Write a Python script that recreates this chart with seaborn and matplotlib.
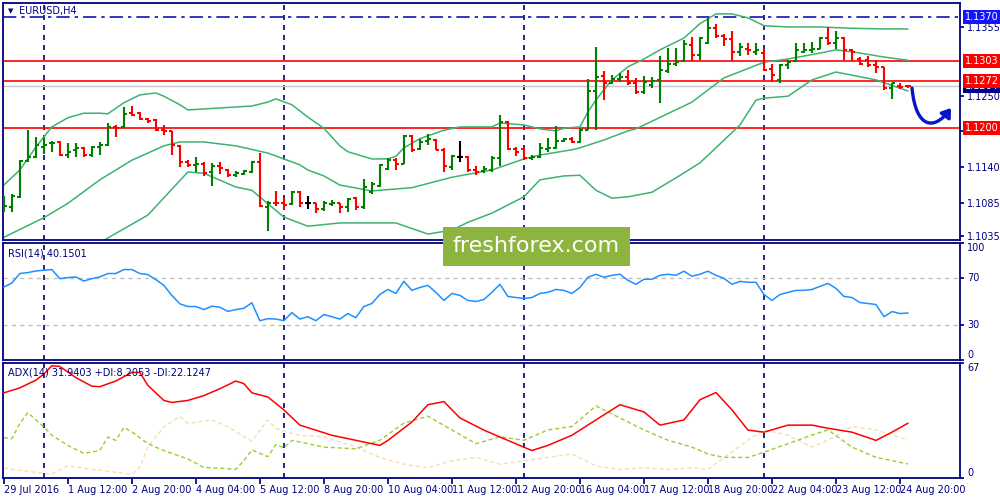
import numpy as np
import pandas as pd
import seaborn as sns
import matplotlib.pyplot as plt
from matplotlib.path import Path
from matplotlib.patches import FancyArrowPatch, Rectangle

sns.set_theme(style="white")
plt.rcParams['font.family'] = ['DejaVu Sans']

NAVY = '#000080'

# ---- EURUSD H4 bars (open, high, low, close) ----
opens = [1.1079, 1.1079, 1.1095, 1.1150, 1.1156, 1.1172, 1.1177, 1.1179, 1.1159, 1.1167,
         1.1169, 1.1159, 1.1172, 1.1174, 1.1202, 1.1202, 1.1223, 1.1224, 1.1214, 1.1213,
         1.1198, 1.1195, 1.1173, 1.1149, 1.1144, 1.1146, 1.1133, 1.1142, 1.1136, 1.1128,
         1.1130, 1.1133, 1.1149, 1.1080, 1.1086, 1.1085, 1.1084, 1.1103, 1.1085, 1.1085,
         1.1076, 1.1084, 1.1085, 1.1079, 1.1093, 1.1079, 1.1103, 1.1112, 1.1137, 1.1152,
         1.1146, 1.1188, 1.1168, 1.1181, 1.1182, 1.1167, 1.1140, 1.1156, 1.1156, 1.1136,
         1.1135, 1.1136, 1.1154, 1.1210, 1.1168, 1.1168, 1.1154, 1.1156, 1.1168, 1.1169,
         1.1181, 1.1183, 1.1179, 1.1198, 1.1257, 1.1280, 1.1270, 1.1276, 1.1279, 1.1270,
         1.1256, 1.1266, 1.1274, 1.1288, 1.1298, 1.1303, 1.1327, 1.1312, 1.1330, 1.1353,
         1.1341, 1.1336, 1.1316, 1.1321, 1.1317, 1.1315, 1.1290, 1.1274, 1.1297, 1.1303,
         1.1317, 1.1319, 1.1322, 1.1338, 1.1330, 1.1338, 1.1319, 1.1306, 1.1304, 1.1297,
         1.1293, 1.1261, 1.1265, 1.1265]
highs = [1.1096, 1.1100, 1.1151, 1.1197, 1.1187, 1.1185, 1.1181, 1.1181, 1.1178, 1.1178,
         1.1171, 1.1173, 1.1179, 1.1208, 1.1205, 1.1232, 1.1234, 1.1225, 1.1215, 1.1214,
         1.1205, 1.1196, 1.1174, 1.1151, 1.1156, 1.1149, 1.1147, 1.1149, 1.1137, 1.1134,
         1.1136, 1.1150, 1.1162, 1.1088, 1.1104, 1.1093, 1.1104, 1.1104, 1.1096, 1.1086,
         1.1089, 1.1090, 1.1086, 1.1093, 1.1094, 1.1122, 1.1117, 1.1145, 1.1154, 1.1154,
         1.1190, 1.1190, 1.1183, 1.1191, 1.1183, 1.1169, 1.1159, 1.1181, 1.1158, 1.1142,
         1.1142, 1.1158, 1.1220, 1.1211, 1.1172, 1.1169, 1.1159, 1.1177, 1.1185, 1.1203,
         1.1185, 1.1186, 1.1200, 1.1276, 1.1324, 1.1287, 1.1282, 1.1284, 1.1289, 1.1277,
         1.1280, 1.1279, 1.1311, 1.1323, 1.1323, 1.1335, 1.1340, 1.1339, 1.1370, 1.1360,
         1.1345, 1.1349, 1.1331, 1.1331, 1.1330, 1.1321, 1.1298, 1.1299, 1.1304, 1.1331,
         1.1331, 1.1332, 1.1339, 1.1355, 1.1349, 1.1340, 1.1321, 1.1309, 1.1311, 1.1304,
         1.1294, 1.1270, 1.1269, 1.1266]
lows = [1.1071, 1.1072, 1.1093, 1.1149, 1.1155, 1.1161, 1.1164, 1.1158, 1.1154, 1.1156,
        1.1156, 1.1156, 1.1159, 1.1173, 1.1186, 1.1200, 1.1218, 1.1213, 1.1208, 1.1195,
        1.1190, 1.1159, 1.1140, 1.1141, 1.1133, 1.1127, 1.1112, 1.1130, 1.1125, 1.1126,
        1.1128, 1.1131, 1.1079, 1.1043, 1.1081, 1.1077, 1.1082, 1.1080, 1.1076, 1.1070,
        1.1074, 1.1081, 1.1070, 1.1071, 1.1075, 1.1076, 1.1099, 1.1110, 1.1136, 1.1136,
        1.1145, 1.1164, 1.1166, 1.1174, 1.1166, 1.1133, 1.1136, 1.1149, 1.1133, 1.1128,
        1.1131, 1.1133, 1.1142, 1.1167, 1.1158, 1.1152, 1.1152, 1.1154, 1.1164, 1.1168,
        1.1179, 1.1177, 1.1177, 1.1197, 1.1198, 1.1243, 1.1268, 1.1271, 1.1266, 1.1253,
        1.1253, 1.1262, 1.1239, 1.1285, 1.1295, 1.1302, 1.1303, 1.1304, 1.1329, 1.1338,
        1.1326, 1.1303, 1.1311, 1.1312, 1.1312, 1.1287, 1.1271, 1.1270, 1.1290, 1.1302,
        1.1315, 1.1315, 1.1321, 1.1327, 1.1322, 1.1304, 1.1303, 1.1297, 1.1294, 1.1285,
        1.1259, 1.1244, 1.1260, 1.1261]
closes = [1.1081, 1.1096, 1.1150, 1.1156, 1.1174, 1.1174, 1.1178, 1.1159, 1.1164, 1.1169,
          1.1159, 1.1172, 1.1174, 1.1202, 1.1200, 1.1222, 1.1220, 1.1214, 1.1211, 1.1198,
          1.1195, 1.1174, 1.1149, 1.1144, 1.1146, 1.1132, 1.1142, 1.1139, 1.1128, 1.1131,
          1.1134, 1.1149, 1.1081, 1.1085, 1.1085, 1.1082, 1.1103, 1.1085, 1.1085, 1.1077,
          1.1086, 1.1085, 1.1079, 1.1091, 1.1079, 1.1110, 1.1115, 1.1144, 1.1152, 1.1145,
          1.1188, 1.1167, 1.1179, 1.1183, 1.1167, 1.1142, 1.1158, 1.1156, 1.1136, 1.1133,
          1.1137, 1.1154, 1.1210, 1.1168, 1.1163, 1.1154, 1.1156, 1.1169, 1.1169, 1.1181,
          1.1183, 1.1179, 1.1198, 1.1257, 1.1278, 1.1270, 1.1276, 1.1279, 1.1270, 1.1256,
          1.1271, 1.1272, 1.1289, 1.1298, 1.1301, 1.1329, 1.1312, 1.1338, 1.1353, 1.1341,
          1.1336, 1.1316, 1.1325, 1.1320, 1.1320, 1.1289, 1.1282, 1.1297, 1.1302, 1.1320,
          1.1320, 1.1322, 1.1338, 1.1331, 1.1338, 1.1319, 1.1317, 1.1299, 1.1297, 1.1294,
          1.1261, 1.1269, 1.1263, 1.1264]

# Bollinger bands (20, 2), read at some bars
bb_up_bars = [0, 2, 4, 6, 8, 10, 12, 13, 15, 17, 19, 20, 22, 23, 27, 31, 33, 34, 36, 38,
              40, 42, 43, 46, 48, 49, 50, 52, 55, 57, 61, 62, 65, 67, 69, 70, 72, 73, 74, 75,
              76, 78, 80, 82, 85, 87, 89, 91, 93, 95, 98, 102, 106, 110, 113]
bb_up = [1.1113, 1.1136, 1.1171, 1.1202, 1.1216, 1.1223, 1.1223, 1.1222, 1.1239, 1.1251,
         1.1254, 1.1249, 1.1236, 1.1228, 1.1231, 1.1234, 1.1240, 1.1245, 1.1236, 1.1217,
         1.1200, 1.1173, 1.1164, 1.1153, 1.1153, 1.1157, 1.1170, 1.1184, 1.1197, 1.1202,
         1.1202, 1.1208, 1.1205, 1.1199, 1.1196, 1.1200, 1.1202, 1.1225, 1.1243, 1.1259,
         1.1274, 1.1294, 1.1306, 1.1320, 1.1338, 1.1360, 1.1375, 1.1375, 1.1369, 1.1357,
         1.1355, 1.1355, 1.1353, 1.1352, 1.1352]
bb_mid_bars = [0, 5, 8, 12, 16, 20, 22, 25, 29, 33, 37, 38, 40, 42, 46, 51, 56, 61, 65, 67,
               71, 72, 75, 78, 79, 86, 90, 95, 98, 102, 104, 106, 110, 113]
bb_mid = [1.1033, 1.1063, 1.1085, 1.1121, 1.1151, 1.1173, 1.1179, 1.1179, 1.1173, 1.1162,
          1.1144, 1.1136, 1.1127, 1.1113, 1.1104, 1.1109, 1.1125, 1.1136, 1.1153, 1.1159,
          1.1167, 1.1170, 1.1182, 1.1196, 1.1199, 1.1240, 1.1277, 1.1301, 1.1306, 1.1315,
          1.1320, 1.1317, 1.1309, 1.1304]
bb_low_bars = [12, 13, 18, 23, 25, 29, 31, 35, 38, 42, 49, 53, 56, 58, 61, 65, 67, 70, 72,
               74, 76, 78, 81, 84, 87, 89, 92, 94, 95, 98, 101, 104, 109, 113]
bb_low = [1.1024, 1.1032, 1.1067, 1.1133, 1.1131, 1.1110, 1.1105, 1.1064, 1.1050, 1.1055,
          1.1055, 1.1038, 1.1044, 1.1056, 1.1070, 1.1095, 1.1121, 1.1127, 1.1128, 1.1105,
          1.1093, 1.1095, 1.1102, 1.1124, 1.1147, 1.1170, 1.1205, 1.1243, 1.1246, 1.1249,
          1.1274, 1.1286, 1.1274, 1.1257]

levels_red = [1.1303, 1.1272, 1.1200]
level_high = 1.1370
bid = 1.1264
price_ticks = [1.1355, 1.1250, 1.1195, 1.1140, 1.1085, 1.1035]

# RSI(14), one value per bar
rsi = [62.3, 65.8, 73.9, 74.7, 76.1, 76.7, 77.3, 69.5, 70.4, 71.0, 67.5, 69.5, 71.0, 73.9,
       73.9, 77.3, 77.3, 73.9, 73.0, 68.7, 63.8, 55.2, 48.0, 45.7, 45.7, 43.1, 46.0, 45.1,
       41.6, 43.1, 44.2, 48.9, 33.6, 35.3, 35.0, 33.6, 40.5, 35.0, 37.0, 33.6, 38.8, 37.0,
       35.0, 39.7, 36.2, 45.7, 48.3, 56.0, 60.3, 56.9, 67.2, 59.5, 62.0, 63.8, 57.8, 50.9,
       56.9, 55.2, 50.9, 50.0, 51.7, 57.8, 64.7, 54.3, 53.4, 52.6, 53.4, 56.9, 57.8, 60.3,
       59.5, 56.9, 62.0, 70.7, 73.3, 70.7, 72.4, 73.3, 68.1, 64.7, 69.0, 69.0, 72.4, 73.3,
       72.4, 75.9, 71.6, 73.3, 75.9, 72.4, 69.8, 64.7, 67.2, 66.4, 66.4, 56.0, 50.9, 56.0,
       57.8, 59.5, 59.5, 60.3, 62.9, 65.5, 61.2, 54.3, 53.4, 49.1, 48.3, 47.4, 37.0, 41.4,
       39.7, 40.15]

# ADX(14) with +DI / -DI
adx_bars = [0, 2, 4, 5, 6, 7, 9, 11, 12, 14, 16, 17, 18, 20, 21, 23, 25, 27, 29, 30, 31,
            33, 35, 37, 41, 47, 48, 51, 53, 55, 57, 60, 63, 66, 68, 71, 75, 77, 80, 82, 85,
            87, 89, 91, 93, 95, 98, 101, 103, 106, 109, 111, 113]
adx = [49.6, 52.5, 57.0, 60.5, 65.4, 65.0, 58.5, 53.5, 53.2, 56.5, 61.5, 61.5, 54.0, 45.2,
       44.0, 45.2, 48.0, 52.0, 56.5, 55.0, 49.6, 47.2, 39.7, 30.8, 24.9, 19.0, 21.9, 32.6,
       42.7, 44.5, 35.0, 27.9, 21.9, 16.0, 19.0, 24.9, 36.8, 42.7, 38.5, 30.8, 33.8, 45.6,
       49.8, 39.7, 27.9, 26.7, 30.8, 30.8, 29.0, 26.7, 21.9, 26.7, 31.94]
pdi_bars = [0, 1, 2, 3, 5, 6, 8, 10, 12, 13, 14, 15, 16, 18, 20, 23, 25, 27, 29, 30, 31, 33,
            34, 35, 36, 37, 40, 44, 47, 50, 53, 56, 59, 62, 65, 68, 71, 74, 77, 80, 83, 86,
            88, 90, 93, 95, 98, 101, 103, 106, 109, 113]
pdi = [23.5, 22.9, 31.8, 38.1, 29.8, 24.9, 19.0, 14.4, 16.0, 23.9, 21.9, 29.4, 26.9, 20.0,
       16.0, 11.1, 6.1, 5.7, 5.1, 10.0, 16.4, 12.4, 19.5, 17.6, 21.9, 21.0, 18.0, 17.0, 22.0,
       32.0, 36.0, 28.0, 20.0, 24.0, 22.0, 28.0, 30.0, 42.0, 35.0, 28.0, 22.0, 18.0, 14.0,
       12.0, 12.0, 15.0, 20.0, 25.0, 28.0, 18.0, 12.0, 8.2]
mdi_bars = [0, 4, 6, 8, 11, 16, 17, 18, 20, 22, 23, 26, 28, 31, 33, 34, 36, 37, 40, 44, 47,
            50, 53, 56, 59, 62, 65, 68, 71, 74, 77, 80, 83, 86, 88, 90, 93, 95, 98, 101, 103,
            106, 109, 113]
mdi = [5.8, 3.2, 2.2, 7.1, 5.1, 2.2, 6.1, 18.0, 29.8, 35.8, 31.8, 33.8, 29.8, 21.5, 33.8,
       28.9, 25.9, 24.9, 24.0, 18.0, 12.0, 8.0, 6.0, 10.0, 12.0, 8.0, 10.0, 12.0, 14.0, 7.0,
       5.0, 6.0, 5.0, 6.0, 5.0, 12.0, 22.0, 28.0, 25.0, 18.0, 22.0, 30.0, 28.0, 22.12]

week_starts = [5, 35, 65, 95]
xtick_bars = [0, 8, 16, 24, 32, 40, 48, 56, 64, 72, 80, 88, 96, 104, 112]
xtick_labels = ['29 Jul 2016', '1 Aug 12:00', '2 Aug 20:00', '4 Aug 04:00', '5 Aug 12:00',
                '8 Aug 20:00', '10 Aug 04:00', '11 Aug 12:00', '12 Aug 20:00', '16 Aug 04:00',
                '17 Aug 12:00', '18 Aug 20:00', '22 Aug 04:00', '23 Aug 12:00', '24 Aug 20:00']

bars = pd.DataFrame({'open': opens, 'high': highs, 'low': lows, 'close': closes})
bars['i'] = np.arange(len(bars))
bars['color'] = np.where(bars.close > bars.open, '#008000',
                         np.where(bars.close < bars.open, '#ff0000', '#000000'))

fig = plt.figure(figsize=(10, 5), dpi=100)
fig.patch.set_facecolor('white')
ax = fig.add_axes([0.003, 0.52, 0.957, 0.474])
ax_rsi = fig.add_axes([0.003, 0.28, 0.957, 0.234])
ax_adx = fig.add_axes([0.003, 0.044, 0.957, 0.23])

XL = (-0.1, 119.5)
for a in (ax, ax_rsi, ax_adx):
    a.set_facecolor('white')
    a.set_xlim(*XL)
    for s in a.spines.values():
        s.set_color(NAVY)
        s.set_linewidth(1.3)
    a.tick_params(axis='y', which='both', right=True, left=False, labelright=True,
                  labelleft=False, direction='out', length=3, color=NAVY,
                  labelcolor=NAVY, labelsize=7, pad=2)
    for b in week_starts:
        a.axvline(b, color=NAVY, lw=1.2, ls=(0, (3, 3)), zorder=1)

# ---- main price panel ----
ax.set_ylim(1.10289, 1.13917)
for lv in levels_red:
    ax.axhline(lv, color='#ff0000', lw=1.2, zorder=2)
ax.axhline(bid, color='#c8c8c8', lw=1.0, zorder=1.5)
ax.axhline(level_high, color='#1010c0', lw=1.2, ls=(0, (8, 3, 2, 3)), zorder=2)

for col, lbl in ((bb_up_bars, bb_up), (bb_mid_bars, bb_mid), (bb_low_bars, bb_low)):
    sns.lineplot(x=col, y=lbl, ax=ax, color='#3cb371', linewidth=1.1, legend=False,
                 zorder=2.5)

ax.vlines(bars.i, bars.low, bars.high, colors=bars.color, lw=1.5, zorder=3)
ax.hlines(bars.open, bars.i - 0.38, bars.i, colors=bars.color, lw=1.5, zorder=3)
ax.hlines(bars.close, bars.i, bars.i + 0.38, colors=bars.color, lw=1.5, zorder=3)

ax.set_yticks(price_ticks)
ax.set_yticklabels([f'{p:.4f}' for p in price_ticks])
ax.set_xticks([])
ax.set_ylabel('')

ytr = ax.get_yaxis_transform()
tags = [(level_high, '#1414ff'), (bid, '#000080'), (1.1272, '#ff0000'),
        (1.1303, '#ff0000'), (1.1200, '#ff0000')]
for z, (p, fc) in enumerate(tags):
    ax.annotate(f'{p:.4f}', xy=(1.0, p), xycoords=ytr, xytext=(3.5, 0),
                textcoords='offset points', ha='left', va='center', fontsize=7,
                color='white', annotation_clip=False, zorder=10 + z,
                bbox=dict(boxstyle='square,pad=0.18', fc=fc, ec='none'))

fig.text(0.008, 0.978, '\u25bc', fontsize=5, color=NAVY, va='center')
fig.text(0.019, 0.978, 'EURUSD,H4', fontsize=7, color=NAVY, va='center')

# ---- RSI panel ----
ax_rsi.set_ylim(0, 100)
for lv in (70, 30):
    ax_rsi.axhline(lv, color='#c0c0c0', lw=1.0, ls=(0, (3, 3)), zorder=1)
sns.lineplot(x=np.arange(len(rsi)), y=rsi, ax=ax_rsi, color='#1e90ff', linewidth=1.1,
             legend=False, zorder=3)
ax_rsi.set_yticks([100, 70, 30, 0])
ax_rsi.set_yticklabels(['100', '70', '30', '0'])
for t, va in zip(ax_rsi.get_yticklabels(), ['top', 'center', 'center', 'bottom']):
    t.set_va(va)
ax_rsi.set_xticks([])
ax_rsi.text(0.005, 0.95, 'RSI(14) 40.1501', transform=ax_rsi.transAxes, fontsize=7,
            color=NAVY, va='top', ha='left')

# ---- ADX panel ----
ax_adx.set_ylim(0, 67)
sns.lineplot(x=mdi_bars, y=mdi, ax=ax_adx, color='#f5deb3', linewidth=1.0,
             linestyle=(0, (3, 2)), legend=False, zorder=2)
sns.lineplot(x=pdi_bars, y=pdi, ax=ax_adx, color='#9acd32', linewidth=1.0,
             linestyle=(0, (3, 2)), legend=False, zorder=2.2)
sns.lineplot(x=adx_bars, y=adx, ax=ax_adx, color='#ff0000', linewidth=1.1,
             legend=False, zorder=3)
ax_adx.set_yticks([67, 0])
ax_adx.set_yticklabels(['67', '0'])
for t, va in zip(ax_adx.get_yticklabels(), ['top', 'bottom']):
    t.set_va(va)
ax_adx.text(0.005, 0.96, 'ADX(14) 31.9403 +DI:8.2053 -DI:22.1247',
            transform=ax_adx.transAxes, fontsize=7, color=NAVY, va='top', ha='left')
ax_adx.set_xticks(xtick_bars)
ax_adx.set_xticklabels(xtick_labels, ha='left')
ax_adx.tick_params(axis='x', bottom=True, direction='out', length=4, color=NAVY,
                   labelcolor=NAVY, labelsize=7, pad=1)

# watermark
fig.add_artist(Rectangle((0.443, 1 - 266 / 500), 0.187, 39 / 500,
                         transform=fig.transFigure, fc='#8db43e', ec='none', zorder=20))
fig.text(0.5365, 1 - 246 / 500, 'freshforex.com', fontsize=16, color='white',
         ha='center', va='center', zorder=21)

# hand drawn arrow
pts = [(912, 88), (916, 130), (935, 130), (951, 108)]
path = Path([(x / 1000, 1 - y / 500) for x, y in pts],
            [Path.MOVETO, Path.CURVE4, Path.CURVE4, Path.CURVE4])
fig.add_artist(FancyArrowPatch(path=path, transform=fig.transFigure,
                               arrowstyle='-|>,head_length=5,head_width=3.5',
                               color='#0a14c8', lw=2.4, zorder=22))

fig.savefig('out.png', dpi=100, facecolor='white')
